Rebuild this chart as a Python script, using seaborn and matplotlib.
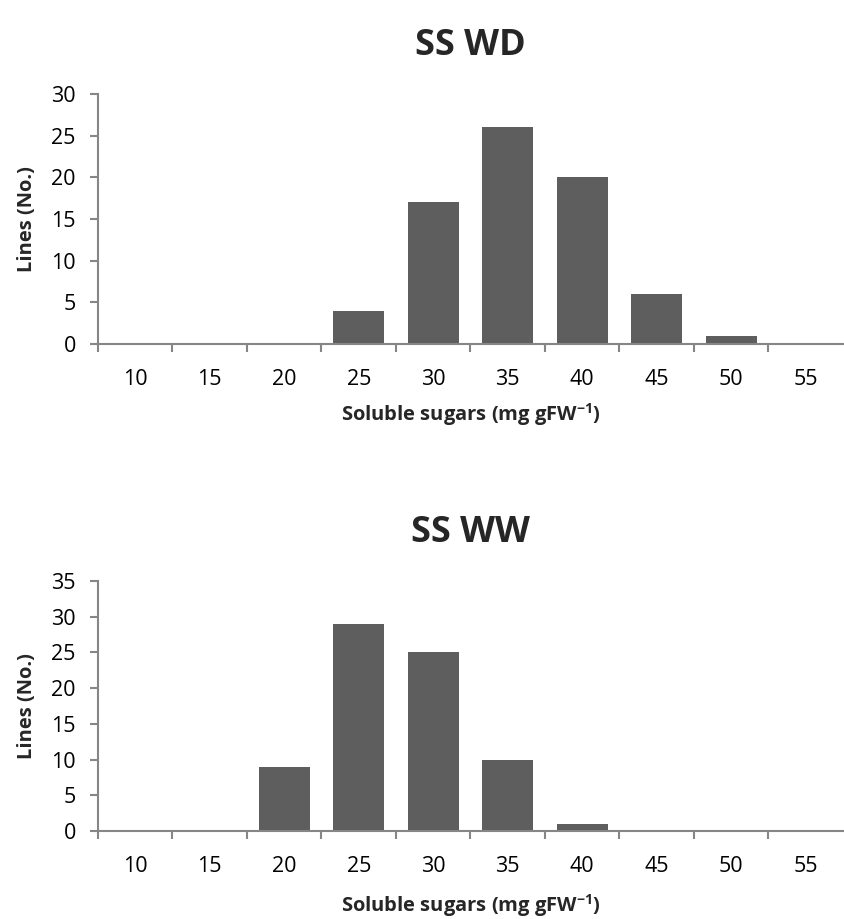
import matplotlib
matplotlib.use("Agg")
import matplotlib.pyplot as plt
import seaborn as sns
import pandas as pd
import numpy as np

categories = ["10", "15", "20", "25", "30", "35", "40", "45", "50", "55"]
wd_counts = [0, 0, 0, 4, 17, 26, 20, 6, 1, 0]
ww_counts = [0, 0, 9, 29, 25, 10, 1, 0, 0, 0]
titles = ["SS WD", "SS WW"]
ymax = [30, 35]

sns.set_theme(style="white")
plt.rcParams["font.family"] = ["Open Sans", "DejaVu Sans"]
plt.rcParams["mathtext.fontset"] = "custom"
plt.rcParams["mathtext.rm"] = "Open Sans:bold"
plt.rcParams["mathtext.default"] = "rm"

fig = plt.figure(figsize=(8.44, 9.19), dpi=100)
axes = [fig.add_axes([0.1161, 0.6257, 0.8827, 0.272]),
        fig.add_axes([0.1161, 0.0958, 0.8827, 0.272])]

spine_c = "#868686"
for i, (ax, counts, title, ym) in enumerate(zip(axes, [wd_counts, ww_counts], titles, ymax)):
    df = pd.DataFrame({"cat": categories, "n": counts})
    sns.barplot(data=df, x="cat", y="n", color="#5e5e5e", width=0.68,
                saturation=1, ax=ax, order=categories, linewidth=0)
    ax.set_xlim(-0.5, len(categories) - 0.5)
    ax.set_ylim(0, ym)
    ax.set_yticks(np.arange(0, ym + 1, 5))
    ax.set_title(title, fontsize=26, fontweight="bold", pad=28)
    ax.set_ylabel("Lines (No.)", fontsize=14.5, fontweight="bold", labelpad=10)
    ax.set_xlabel("Soluble sugars (mg gFW$^{-1}$)", fontsize=14.5, fontweight="bold",
                  labelpad=8 if i == 0 else 11)
    for s in ["top", "right"]:
        ax.spines[s].set_visible(False)
    for s in ["left", "bottom"]:
        ax.spines[s].set_color(spine_c)
        ax.spines[s].set_linewidth(1.5)
    ax.set_xticks(np.arange(len(categories)))
    ax.set_xticklabels(categories)
    ax.set_xticks(np.arange(-0.5, len(categories) - 0.5, 1), minor=True)
    ax.tick_params(axis="x", which="major", length=0, labelsize=15.5, pad=18, colors="black")
    ax.tick_params(axis="x", which="minor", bottom=True, length=6, width=1.5, color=spine_c)
    ax.tick_params(axis="y", left=True, length=6, width=1.5, color=spine_c, labelsize=15.5,
                   labelcolor="black", pad=10)
    ax.grid(False)

fig.savefig("out.png", dpi=100)
